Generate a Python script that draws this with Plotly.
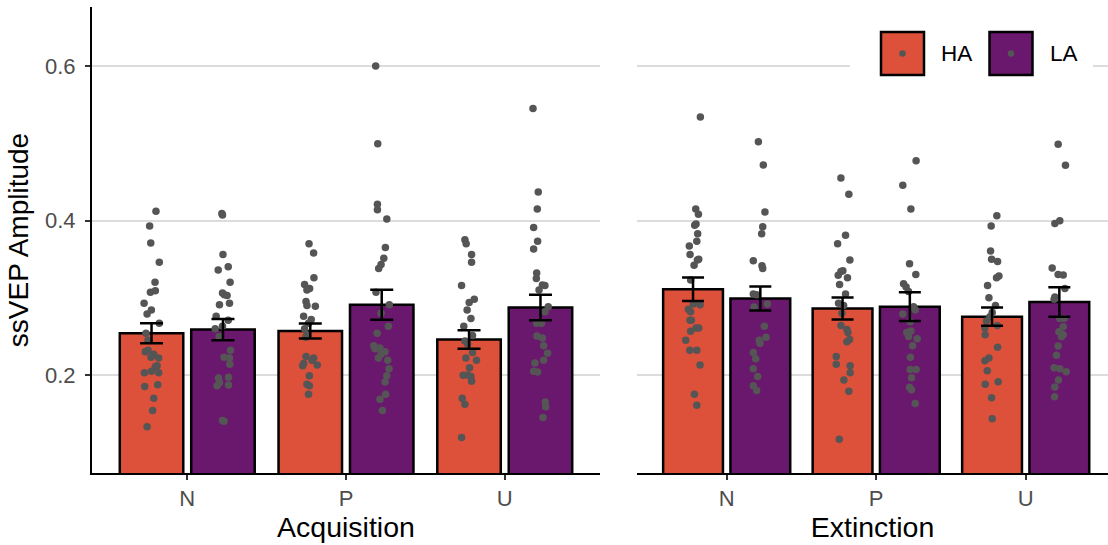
import plotly.graph_objects as go

categories = ["N", "P", "U"]
groups = ["HA", "LA"]
phases = ["Acquisition", "Extinction"]

# bar means and standard errors (N, P, U)
acq_HA_mean = [0.254, 0.257, 0.246]
acq_HA_se = [0.013, 0.0097, 0.012]
acq_LA_mean = [0.2588, 0.291, 0.2875]
acq_LA_se = [0.0138, 0.0195, 0.0165]
ext_HA_mean = [0.311, 0.286, 0.2755]
ext_HA_se = [0.0153, 0.0143, 0.0119]
ext_LA_mean = [0.299, 0.2885, 0.2945]
ext_LA_se = [0.0155, 0.0185, 0.019]

# individual subject values and their horizontal jitter (category units)
acq_HA_N = [0.412, 0.393, 0.371, 0.346, 0.320, 0.309, 0.307, 0.293, 0.284, 0.279, 0.267, 0.254, 0.245, 0.232, 0.230, 0.227, 0.223, 0.222, 0.212, 0.211, 0.205, 0.203, 0.203, 0.1875, 0.185, 0.170, 0.154, 0.133]
acq_HA_N_jit = [0.028, -0.012, -0.005, 0.049, 0.022, 0.024, -0.007, -0.047, -0.001, -0.028, 0.049, -0.035, -0.022, -0.022, -0.039, 0.014, -0.003, 0.045, 0.035, 0.024, -0.001, -0.045, 0.045, 0.039, -0.043, 0.014, 0.007, -0.028]
acq_LA_N = [0.409, 0.407, 0.356, 0.340, 0.336, 0.320, 0.306, 0.304, 0.303, 0.293, 0.291, 0.276, 0.271, 0.263, 0.260, 0.250, 0.232, 0.223, 0.222, 0.214, 0.197, 0.196, 0.190, 0.187, 0.186, 0.141, 0.140]
acq_LA_N_jit = [-0.007, -0.003, 0.000, 0.033, -0.030, 0.045, -0.003, 0.009, 0.026, 0.041, -0.022, -0.043, 0.033, -0.003, -0.049, -0.024, 0.047, 0.007, 0.041, 0.043, 0.035, -0.028, -0.022, 0.035, -0.037, -0.003, 0.007]
acq_HA_P = [0.370, 0.358, 0.326, 0.317, 0.312, 0.310, 0.295, 0.290, 0.289, 0.276, 0.272, 0.267, 0.260, 0.252, 0.249, 0.224, 0.222, 0.219, 0.215, 0.213, 0.212, 0.199, 0.188, 0.186, 0.175]
acq_HA_P_jit = [-0.008, 0.021, 0.023, -0.036, -0.004, -0.021, -0.027, -0.021, 0.032, -0.042, 0.006, -0.011, -0.036, -0.021, -0.027, -0.027, 0.021, 0.011, -0.042, 0.044, -0.048, -0.006, -0.021, -0.006, -0.011]
acq_LA_P = [0.600, 0.4995, 0.421, 0.414, 0.402, 0.365, 0.351, 0.343, 0.338, 0.307, 0.291, 0.280, 0.263, 0.254, 0.238, 0.235, 0.234, 0.230, 0.227, 0.222, 0.219, 0.208, 0.199, 0.191, 0.175, 0.1685, 0.154]
acq_LA_P_jit = [-0.038, -0.025, -0.027, -0.027, 0.032, 0.023, 0.013, -0.004, -0.019, -0.036, 0.048, -0.004, 0.042, -0.029, -0.050, -0.011, -0.042, 0.021, -0.004, -0.021, 0.038, 0.046, 0.032, 0.021, 0.025, -0.011, 0.004]
acq_HA_U = [0.375, 0.370, 0.356, 0.346, 0.316, 0.298, 0.294, 0.284, 0.273, 0.263, 0.251, 0.244, 0.240, 0.229, 0.222, 0.219, 0.2095, 0.200, 0.1996, 0.198, 0.192, 0.170, 0.162, 0.119]
acq_HA_U_jit = [-0.026, -0.018, 0.016, 0.016, -0.047, 0.033, 0.001, -0.012, 0.012, -0.033, 0.022, -0.026, -0.009, 0.022, -0.020, 0.047, 0.003, -0.009, -0.037, 0.012, 0.016, -0.043, -0.026, -0.047]
acq_LA_U = [0.545, 0.437, 0.415, 0.391, 0.373, 0.363, 0.332, 0.325, 0.3165, 0.316, 0.310, 0.2885, 0.282, 0.267, 0.267, 0.2505, 0.248, 0.238, 0.228, 0.219, 0.2155, 0.205, 0.204, 0.165, 0.159, 0.145]
acq_LA_U_jit = [-0.047, -0.014, -0.020, -0.043, -0.018, -0.043, -0.024, -0.026, 0.012, 0.028, -0.009, 0.049, 0.028, -0.024, 0.007, -0.022, 0.012, 0.020, 0.045, 0.020, -0.035, -0.043, -0.018, 0.030, 0.033, 0.016]

ext_HA_N = [0.534, 0.415, 0.408, 0.3955, 0.394, 0.383, 0.373, 0.367, 0.356, 0.350, 0.349, 0.342, 0.323, 0.292, 0.291, 0.285, 0.282, 0.271, 0.271, 0.261, 0.261, 0.2565, 0.245, 0.232, 0.232, 0.213, 0.175, 0.161]
ext_HA_N_jit = [0.049, 0.018, 0.036, 0.020, 0.011, 0.031, 0.025, -0.025, -0.020, 0.038, 0.029, 0.007, -0.016, 0.002, 0.047, -0.031, -0.016, -0.020, -0.011, 0.020, 0.038, -0.016, -0.049, 0.025, -0.022, 0.047, 0.009, 0.025]
ext_LA_N = [0.502, 0.472, 0.411, 0.392, 0.383, 0.348, 0.3415, 0.338, 0.305, 0.304, 0.292, 0.288, 0.263, 0.249, 0.245, 0.241, 0.229, 0.221, 0.208, 0.198, 0.186, 0.180]
ext_LA_N_jit = [-0.013, 0.020, 0.031, 0.016, 0.009, -0.047, 0.011, 0.016, -0.047, -0.025, 0.047, -0.042, 0.027, 0.038, -0.007, -0.002, -0.047, -0.031, -0.047, -0.018, -0.047, -0.025]
ext_HA_P = [0.455, 0.434, 0.381, 0.370, 0.349, 0.335, 0.334, 0.329, 0.326, 0.317, 0.305, 0.293, 0.290, 0.280, 0.264, 0.259, 0.255, 0.246, 0.243, 0.224, 0.214, 0.212, 0.203, 0.1935, 0.179, 0.1167]
ext_HA_P_jit = [-0.011, 0.042, 0.020, -0.033, 0.049, 0.002, -0.011, -0.029, 0.033, -0.020, 0.020, -0.027, 0.007, -0.004, -0.011, 0.029, 0.036, 0.047, 0.029, -0.042, -0.042, 0.051, 0.051, 0.009, 0.042, -0.022]
ext_LA_P = [0.4775, 0.4455, 0.415, 0.344, 0.330, 0.318, 0.314, 0.308, 0.2885, 0.284, 0.279, 0.269, 0.257, 0.255, 0.250, 0.247, 0.238, 0.223, 0.207, 0.207, 0.1965, 0.184, 0.181, 0.163]
ext_LA_P_jit = [0.042, -0.047, 0.007, -0.002, 0.040, -0.042, -0.025, -0.009, 0.025, 0.036, -0.047, 0.002, 0.007, -0.020, -0.009, 0.049, 0.018, 0.004, 0.002, 0.042, 0.011, -0.002, 0.011, 0.036]
ext_HA_U = [0.406, 0.393, 0.3605, 0.350, 0.347, 0.328, 0.326, 0.316, 0.300, 0.290, 0.281, 0.2755, 0.270, 0.264, 0.261, 0.252, 0.236, 0.222, 0.2186, 0.2056, 0.1914, 0.188, 0.1707, 0.1435]
ext_HA_U_jit = [0.032, -0.006, -0.010, -0.003, 0.037, 0.046, 0.030, -0.030, -0.021, 0.023, 0.001, -0.014, -0.037, 0.035, -0.048, -0.046, 0.037, -0.021, -0.048, -0.032, 0.041, -0.046, -0.003, 0.001]
ext_LA_U = [0.4986, 0.4714, 0.3998, 0.396, 0.3385, 0.330, 0.3294, 0.312, 0.301, 0.298, 0.273, 0.273, 0.2626, 0.256, 0.252, 0.2496, 0.2375, 0.2255, 0.2095, 0.208, 0.2043, 0.1935, 0.1845, 0.172]
ext_LA_U_jit = [-0.008, 0.041, 0.003, -0.030, -0.048, -0.008, 0.026, 0.037, -0.030, -0.035, 0.003, 0.032, 0.026, -0.003, 0.026, 0.014, -0.008, -0.019, -0.035, 0.003, 0.046, -0.006, -0.030, -0.032]

y_ticks = [0.2, 0.4, 0.6]
y_ticktext = ["0.2", "0.4", "0.6"]

# ---------------------------------------------------------------------------
colors = {"HA": "#DD513A", "LA": "#6A176E"}
dodge = {"HA": -0.225, "LA": 0.225}
cat_pos = [i + 1 for i in range(len(categories))]
FONT = "Liberation Sans, Arial, Helvetica, sans-serif"

panels = [
    dict(xa="x", ya="y", cap=11.5,
         means={"HA": acq_HA_mean, "LA": acq_LA_mean},
         ses={"HA": acq_HA_se, "LA": acq_LA_se},
         pts={"HA": [(acq_HA_N, acq_HA_N_jit), (acq_HA_P, acq_HA_P_jit), (acq_HA_U, acq_HA_U_jit)],
              "LA": [(acq_LA_N, acq_LA_N_jit), (acq_LA_P, acq_LA_P_jit), (acq_LA_U, acq_LA_U_jit)]}),
    dict(xa="x2", ya="y2", cap=11,
         means={"HA": ext_HA_mean, "LA": ext_LA_mean},
         ses={"HA": ext_HA_se, "LA": ext_LA_se},
         pts={"HA": [(ext_HA_N, ext_HA_N_jit), (ext_HA_P, ext_HA_P_jit), (ext_HA_U, ext_HA_U_jit)],
              "LA": [(ext_LA_N, ext_LA_N_jit), (ext_LA_P, ext_LA_P_jit), (ext_LA_U, ext_LA_U_jit)]}),
]

fig = go.Figure()
for p in panels:
    for g in groups:
        fig.add_trace(go.Bar(
            x=[c + dodge[g] for c in cat_pos], y=p["means"][g], width=0.4,
            marker=dict(color=colors[g], line=dict(color="black", width=2.5)),
            xaxis=p["xa"], yaxis=p["ya"], showlegend=False, name=g))
    for g in groups:
        xs, ys = [], []
        for c, (vals, jit) in zip(cat_pos, p["pts"][g]):
            xs += [c + dodge[g] + j for j in jit]
            ys += vals
        fig.add_trace(go.Scatter(
            x=xs, y=ys, mode="markers",
            marker=dict(size=7.5, color="#555555", line=dict(width=0)),
            xaxis=p["xa"], yaxis=p["ya"], showlegend=False, name=g))
    for g in groups:
        fig.add_trace(go.Scatter(
            x=[c + dodge[g] for c in cat_pos], y=p["means"][g], mode="markers",
            marker=dict(size=1, color="rgba(0,0,0,0)"),
            error_y=dict(type="data", array=p["ses"][g], color="black", thickness=2.5, width=p["cap"]),
            xaxis=p["xa"], yaxis=p["ya"], showlegend=False, name=g))

yrange = [0.07314, 0.67638]
xstyle = dict(showline=True, linecolor="black", linewidth=2, ticks="outside", ticklen=5,
              tickwidth=2, tickcolor="#333333", tickfont=dict(size=22, color="#4D4D4D"),
              showgrid=False, zeroline=False, tickvals=cat_pos, ticktext=categories,
              ticklabelstandoff=0)

fig.update_layout(
    width=1108, height=545,
    margin=dict(l=92, r=0, t=7, b=72),
    plot_bgcolor="white", paper_bgcolor="white",
    font=dict(family=FONT, color="black"),
    showlegend=False,
    xaxis=dict(domain=[0, 0.5], range=[0.4, 3.6], anchor="y",
               title=dict(text=phases[0], font=dict(size=28.5, color="black"), standoff=6), **xstyle),
    xaxis2=dict(domain=[0.5364, 1], range=[0.4, 3.5505], anchor="y2",
                title=dict(text=phases[1], font=dict(size=28.5, color="black"), standoff=6), **xstyle),
    yaxis=dict(range=yrange, anchor="x", tickvals=y_ticks, ticktext=y_ticktext,
               showline=True, linecolor="black", linewidth=2, ticks="outside", ticklen=5,
               tickwidth=2, tickcolor="#333333", tickfont=dict(size=22, color="#4D4D4D"),
               showgrid=True, gridcolor="#DCDCDC", gridwidth=2.2, zeroline=False,
               ticklabelstandoff=5,
               title=dict(text="ssVEP Amplitude", font=dict(size=28, color="black"), standoff=8)),
    yaxis2=dict(range=yrange, anchor="x2", tickvals=y_ticks, showticklabels=False, ticks="",
                showline=False, showgrid=True, gridcolor="#DCDCDC", gridwidth=2.2, zeroline=False),
)

# manual legend (ggplot-style keys inside the Extinction panel)
def px_x(px):
    return (px - 92) / 1016.0

def px_y(py):
    return (473 - py) / 466.0

shapes = [dict(type="rect", xref="paper", yref="paper", x0=px_x(850), x1=px_x(1093),
               y0=px_y(84), y1=px_y(23), fillcolor="white", line=dict(width=0), layer="above")]
annotations = []
for g, kx, tx in [("HA", 881, 939), ("LA", 989.5, 1048)]:
    shapes.append(dict(type="rect", xref="paper", yref="paper", x0=px_x(kx), x1=px_x(kx + 43),
                       y0=px_y(75), y1=px_y(32), fillcolor=colors[g],
                       line=dict(color="black", width=2.5), layer="above"))
    cx = kx + 21.5
    shapes.append(dict(type="circle", xref="paper", yref="paper", x0=px_x(cx - 3.3), x1=px_x(cx + 3.3),
                       y0=px_y(56.8), y1=px_y(50.2), fillcolor="#555555", line=dict(width=0), layer="above"))
    annotations.append(dict(text=g, xref="paper", yref="paper", x=px_x(tx), y=px_y(53.5),
                            xanchor="left", yanchor="middle", showarrow=False,
                            font=dict(size=22.5, color="black", family=FONT)))
fig.update_layout(shapes=shapes, annotations=annotations)

fig.write_html("out.html", config={"displayModeBar": False})
